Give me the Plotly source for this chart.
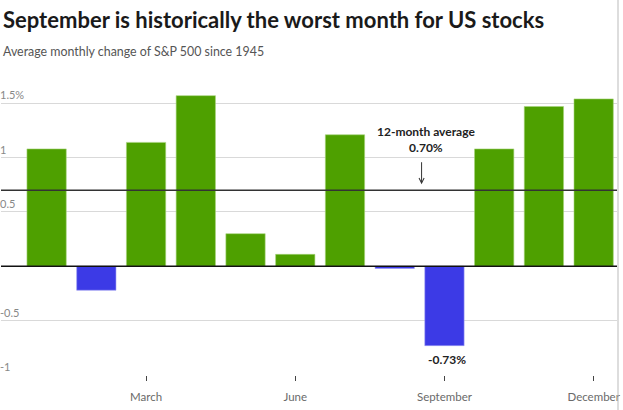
import plotly.graph_objects as go

months = ["January", "February", "March", "April", "May", "June", "July",
          "August", "September", "October", "November", "December"]
values = [1.08, -0.22, 1.14, 1.57, 0.30, 0.11, 1.21, -0.02, -0.73, 1.08, 1.47, 1.54]
average = 0.70
tick_months = ["March", "June", "September", "December"]
y_ticks = [-1, -0.5, 0, 0.5, 1, 1.5]
y_tick_text = ["-1", "-0.5", "", "0.5", "1", "1.5%"]

W, H = 623, 410
MT, MB = 85, 35
FONT = "Lato"

green = "#4ea000"
blue = "#3c3ae6"
colors = [green if v >= 0 else blue for v in values]
edge = ["#a6d47a" if v >= 0 else "#9a9af2" for v in values]

fig = go.Figure()
fig.add_trace(go.Bar(
    x=months, y=values, marker=dict(color=colors, line=dict(color=edge, width=0.6)),
    width=0.79, hoverinfo="skip",
))

fig.update_layout(
    width=W, height=H,
    margin=dict(l=0, r=0, t=MT, b=MB),
    paper_bgcolor="white", plot_bgcolor="white",
    showlegend=False,
    font=dict(family=FONT, color="#666"),
    xaxis=dict(
        domain=[0, 620 / W],
        range=[-0.917, 11.47],
        tickvals=tick_months, ticktext=tick_months,
        ticks="outside", ticklen=5, tickcolor="#444", tickwidth=1,
        ticklabelstandoff=6,
        showgrid=False, showline=False, zeroline=False,
        tickfont=dict(size=11.5, color="#6a6a6a", family=FONT),
    ),
    yaxis=dict(
        range=[-1, 1.668],
        tickvals=y_ticks, ticktext=y_tick_text,
        ticklabelposition="inside top",
        ticklabelstandoff=-4,
        showgrid=True, gridcolor="#d9d9d9", gridwidth=1,
        zeroline=False, showline=False, ticks="",
        tickfont=dict(size=11, color="#888", family=FONT),
    ),
    bargap=0.2,
)

# zero line and average line
fig.add_shape(type="line", xref="x domain", yref="y", x0=0, x1=1, y0=0, y1=0,
              line=dict(color="#111", width=1.5))
fig.add_shape(type="line", xref="x domain", yref="y", x0=0, x1=1, y0=average, y1=average,
              line=dict(color="#333", width=1.5))

# right border line
ph = H - MT - MB
fig.add_shape(type="line", xref="paper", yref="paper", x0=621 / W, x1=621 / W,
              y0=-MB / ph, y1=(H - MB) / ph, line=dict(color="#bbb", width=1))

# average label and arrow
fig.add_annotation(
    x=7.63, y=average, xref="x", yref="y", yanchor="bottom", yshift=33,
    text="<b>12-month average<br>0.70%</b>", showarrow=False,
    font=dict(size=12, color="#222", family=FONT),
)
fig.add_annotation(
    x=7.54, y=average, xref="x", yref="y",
    text=" ", showarrow=True,
    arrowhead=5, arrowsize=1, arrowwidth=1, arrowcolor="#333",
    ax=0, ay=-30, standoff=6,
    font=dict(size=1, color="#222", family=FONT),
)
fig.add_annotation(
    x="September", y=values[8], xref="x", yref="y",
    text="<b>-0.73%</b>", showarrow=False, yanchor="top", yshift=-4, xshift=3,
    font=dict(size=12, color="#222", family=FONT),
)

fig.add_annotation(
    x=0, y=(H - MB - 19) / ph, xref="paper", yref="paper", xanchor="left", yanchor="middle",
    text="<b>September is historically the worst month for US stocks</b>", showarrow=False,
    font=dict(size=22, color="#1a1a1a", family=FONT),
)
fig.add_annotation(
    x=0, y=(H - MB - 51) / ph, xref="paper", yref="paper", xanchor="left", yanchor="middle",
    text="Average monthly change of S&P 500 since 1945", showarrow=False,
    font=dict(size=12.4, color="#555", family=FONT),
)

fig.write_html("out.html")
